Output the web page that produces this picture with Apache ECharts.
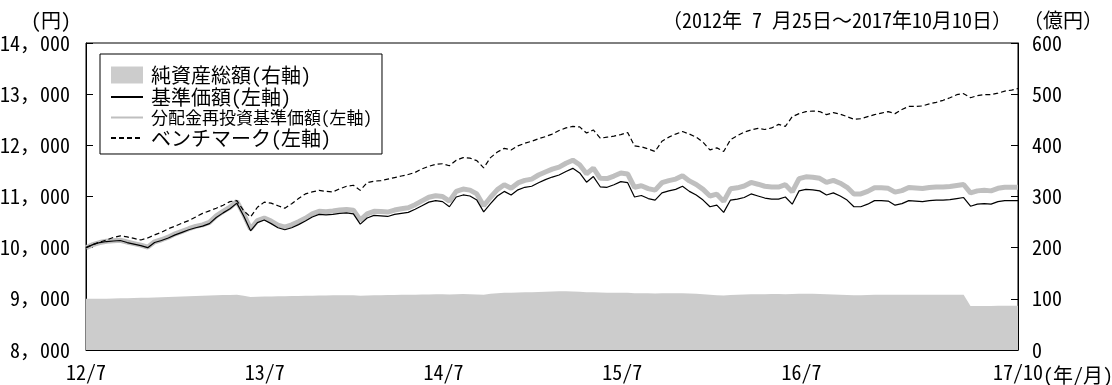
<!DOCTYPE html>
<html>
<head>
<meta charset="utf-8">
<script src="https://cdn.jsdelivr.net/npm/echarts@6/dist/echarts.min.js"></script>
<style>
  html, body { margin: 0; padding: 0; background: #fff; }
  #chart { width: 1112px; height: 385px; }
</style>
</head>
<body>
<div id="chart"></div>
<script>
// Fund performance: NAV, reinvested NAV, benchmark (left axis, 円) and net assets (right axis, 億円)
const startDate = '2012-07-25';
const endDate = '2017-10-10';
const stepDays = 14;

const xTickDates = ['2012-07-25', '2013-07-25', '2014-07-25', '2015-07-25', '2016-07-25', '2017-10-10'];
const xTickLabels = ['12/7', '13/7', '14/7', '15/7', '16/7', '17/10'];

const legendNames = ['純資産総額(右軸)', '基準価額(左軸)', '分配金再投資基準価額(左軸)', 'ベンチマーク(左軸)'];

// 基準価額 (円)
const nav = [
  10000,10060,10100,10120,10130,10140,10100,10070,10040,10000,
  10100,10140,10190,10250,10300,10350,10390,10420,10470,10590,
  10680,10760,10870,10620,10330,10490,10540,10470,10390,10350,
  10390,10450,10520,10600,10650,10640,10650,10670,10680,10660,
  10460,10580,10630,10620,10610,10650,10670,10690,10750,10820,
  10890,10920,10900,10800,10990,11030,11010,10930,10700,10860,
  11010,11100,11030,11130,11180,11200,11270,11330,11380,11420,
  11490,11550,11460,11280,11390,11190,11180,11230,11290,11270,
  10990,11020,10960,10930,11070,11110,11140,11200,11100,11030,
  10930,10800,10830,10690,10930,10950,10980,11050,11010,10970,
  10950,10950,10990,10850,11110,11140,11130,11110,11030,11070,
  11010,10930,10800,10800,10850,10920,10920,10910,10830,10860,
  10920,10910,10900,10920,10930,10930,10940,10960,10980,10810,
  10850,10860,10850,10900,10920,10920,10920
];

// 分配金再投資基準価額 (円)
const navReinvested = [
  10000,10060,10100,10125,10135,10145,10110,10080,10050,10010,
  10115,10155,10205,10270,10320,10370,10415,10445,10495,10620,
  10710,10790,10905,10655,10365,10530,10580,10520,10440,10400,
  10445,10505,10575,10660,10710,10700,10715,10735,10745,10730,
  10540,10660,10710,10705,10695,10735,10760,10780,10840,10915,
  10985,11015,11000,10910,11100,11145,11125,11050,10820,10985,
  11135,11230,11160,11265,11315,11340,11420,11480,11535,11575,
  11650,11710,11620,11445,11555,11355,11350,11400,11460,11440,
  11180,11210,11155,11125,11270,11310,11340,11405,11305,11235,
  11140,11010,11045,10905,11150,11170,11205,11275,11240,11200,
  11185,11185,11230,11090,11350,11385,11375,11355,11275,11315,
  11260,11180,11050,11050,11100,11170,11170,11160,11085,11115,
  11175,11165,11155,11175,11185,11185,11195,11215,11235,11070,
  11110,11120,11110,11160,11180,11180,11180
];

// ベンチマーク (円)
const benchmark = [
  10000,10060,10110,10150,10200,10230,10210,10180,10150,10190,
  10250,10300,10370,10420,10480,10530,10600,10670,10720,10770,
  10830,10900,10920,10720,10600,10790,10890,10870,10820,10770,
  10860,10960,11050,11090,11120,11100,11090,11150,11200,11220,
  11120,11270,11300,11310,11340,11370,11400,11430,11470,11540,
  11590,11630,11640,11600,11710,11760,11750,11700,11560,11760,
  11870,11940,11910,11990,12040,12080,12130,12170,12220,12290,
  12340,12370,12360,12240,12300,12140,12160,12180,12210,12250,
  11990,11970,11930,11880,12080,12160,12220,12270,12220,12160,
  12060,11910,11950,11880,12110,12190,12260,12300,12330,12310,
  12340,12410,12370,12560,12620,12660,12670,12660,12600,12640,
  12610,12560,12510,12520,12560,12600,12630,12660,12620,12700,
  12760,12760,12770,12810,12840,12880,12930,12990,13010,12930,
  12970,12990,12990,13020,13060,13080,13110
];

// 純資産総額 (億円)
const netAssets = [
  100,100,100,100,100.5,101,101,101.5,102,102,
  102.5,103,103.5,104,104.5,105,105.5,106,106.5,107,
  107.5,107.5,108,106,103.5,104,104.5,104.5,105,105,
  105.5,105.5,106,106,106.5,106.5,107,107,107,107,
  106,106.5,107,107,107.5,107.5,108,108,108,108.5,
  108.5,109,109,108.5,109,109.5,109,108.5,108,110,
  111,112,112,112.5,113,113,113.5,114,114.5,115,
  115,114.5,114,113,113,112.5,112,112,112,112,
  111,111,111,110.5,111,111,111,111,110.5,110,
  109,108,107,106.5,107.5,108,108.5,109,109,109,
  109.5,109.5,109,109.5,110,110,110,109.5,109,108.5,
  108,107.5,107,107,107.5,108,108,108,108,108,
  108,108,108,108,108,108,108,108,108,86,
  86,86,86,86.5,86.5,86.5,86.5
];

const DAY = 86400000;
const dayOf = d => Math.round((Date.parse(d) - Date.parse(startDate)) / DAY);
const lastDay = dayOf(endDate);

// Observation days: every two weeks from the start, plus the final date
const days = [];
for (let d = 0; d < lastDay; d += stepDays) days.push(d);
days.push(lastDay);

const pair = arr => arr.map((v, i) => [days[i], v]);

const tickDays = xTickDates.map(dayOf);
const labelFor = {};
tickDays.forEach((d, i) => { labelFor[d] = xTickLabels[i]; });

// Thousands separator drawn as a full-width comma
const fmtYen = v => {
  const s = String(v);
  return s.length > 3 ? s.slice(0, -3) + '，' + s.slice(-3) : s;
};

const FONT = "'Noto Sans Mono CJK JP', 'Noto Sans CJK JP', 'Noto Sans', sans-serif";
const txt = { color: '#000', fontFamily: FONT, fontSize: 20 };
const hidden = { color: 'rgba(0,0,0,0)', borderColor: 'rgba(0,0,0,0)', borderWidth: 0, opacity: 0 };

const chart = echarts.init(document.getElementById('chart'), null, { renderer: 'canvas' });

chart.setOption({
  animation: false,
  backgroundColor: '#fff',
  textStyle: { fontFamily: FONT },
  grid: {
    left: 86, right: 94, top: 43, bottom: 35,
    containLabel: false, outerBoundsMode: 'none',
    show: true, borderColor: '#000', borderWidth: 1, backgroundColor: 'transparent'
  },
  legend: {
    orient: 'vertical',
    left: 100, top: 54,
    itemWidth: 32, itemHeight: 17, itemGap: 2,
    padding: [11, 10, 6, 10],
    borderColor: '#000', borderWidth: 1, backgroundColor: '#fff',
    textStyle: Object.assign({}, txt, { fontSize: 20, padding: [0, 0, 0, 3] }),
    data: [
      { name: legendNames[0], icon: 'rect' },
      { name: legendNames[1], itemStyle: hidden },
      { name: legendNames[2], itemStyle: hidden, textStyle: { fontSize: 17 } },
      { name: legendNames[3], itemStyle: hidden }
    ]
  },
  xAxis: {
    type: 'value',
    min: 0, max: lastDay,
    axisLine: { show: true, lineStyle: { color: '#000', width: 1 } },
    axisTick: { show: true, inside: true, length: 7, customValues: tickDays.slice(1, -1), lineStyle: { color: '#000' } },
    axisLabel: Object.assign({}, txt, {
      customValues: tickDays,
      showMinLabel: true, showMaxLabel: true,
      margin: 12,
      formatter: v => labelFor[v] || ''
    }),
    splitLine: { show: false }
  },
  yAxis: [
    {
      type: 'value', position: 'left',
      min: 8000, max: 14000, interval: 1000,
      axisLine: { show: true, lineStyle: { color: '#000', width: 1 } },
      axisTick: { show: true, inside: true, length: 7, lineStyle: { color: '#000' } },
      axisLabel: Object.assign({}, txt, { margin: 16, formatter: fmtYen }),
      splitLine: { show: false }
    },
    {
      type: 'value', position: 'right',
      min: 0, max: 600, interval: 100,
      axisLine: { show: true, lineStyle: { color: '#000', width: 1 } },
      axisTick: { show: true, inside: true, length: 7, lineStyle: { color: '#000' } },
      axisLabel: Object.assign({}, txt, { margin: 14 }),
      splitLine: { show: false }
    }
  ],
  series: [
    {
      name: legendNames[0], type: 'line', yAxisIndex: 1,
      data: pair(netAssets), symbol: 'none', z: 1,
      color: '#cccccc',
      itemStyle: { color: '#cccccc' },
      lineStyle: { width: 0, color: '#cccccc' },
      areaStyle: { color: '#cccccc', opacity: 1 }
    },
    {
      name: legendNames[2], type: 'line', yAxisIndex: 0,
      data: pair(navReinvested), symbol: 'none', z: 2,
      color: '#bfbfbf',
      lineStyle: { width: 5, color: '#bfbfbf' }
    },
    {
      name: legendNames[1], type: 'line', yAxisIndex: 0,
      data: pair(nav), symbol: 'none', z: 3,
      color: '#000',
      lineStyle: { width: 1.2, color: '#000' }
    },
    {
      name: legendNames[3], type: 'line', yAxisIndex: 0,
      data: pair(benchmark), symbol: 'none', z: 3,
      color: '#000',
      lineStyle: { width: 1.2, color: '#000', type: [5, 3] }
    }
  ],
  graphic: [
    { type: 'text', x: 71, y: 20, style: { text: '(円)', textAlign: 'right', textVerticalAlign: 'middle', fill: '#000', font: '20px ' + FONT } },
    { type: 'text', x: 1012, y: 20, style: { text: '（2012年 7 月25日～2017年10月10日）', textAlign: 'right', textVerticalAlign: 'middle', fill: '#000', font: '20px ' + FONT } },
    { type: 'text', x: 1023, y: 20, style: { text: '（億円）', textAlign: 'left', textVerticalAlign: 'middle', fill: '#000', font: '20px ' + FONT } },
    { type: 'text', x: 1043, y: 375, style: { text: '(年/月)', textAlign: 'left', textVerticalAlign: 'middle', fill: '#000', font: '20px ' + FONT } }
  ]
});
</script>
</body>
</html>
